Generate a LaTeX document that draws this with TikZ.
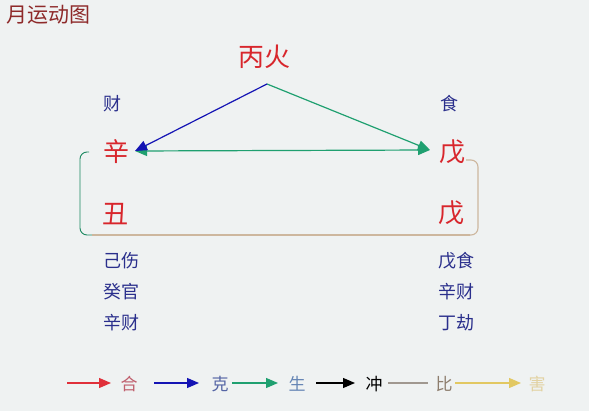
\documentclass[tikz,border=0pt]{standalone}
\usepackage{fontspec}
\setmainfont{Noto Sans CJK SC}
\usetikzlibrary{arrows.meta}
\definecolor{bgc}{HTML}{EFF2F2}
\definecolor{bigred}{HTML}{D8262C}
\definecolor{navy}{HTML}{2A2F8C}
\definecolor{titlered}{HTML}{8E2A2A}
\definecolor{arrblue}{HTML}{1414B4}
\definecolor{arrgreen}{HTML}{1FA070}
\definecolor{tan}{HTML}{CDB79E}
\definecolor{lgred}{HTML}{E0303A}
\definecolor{lgredt}{HTML}{C0606E}
\definecolor{lgbluet}{HTML}{5565A5}
\definecolor{lggreent}{HTML}{6585B5}
\definecolor{lggray}{HTML}{A09890}
\definecolor{lggrayt}{HTML}{8E7E6E}
\definecolor{lgyellow}{HTML}{E2C862}
\definecolor{lgyellowt}{HTML}{E2D2A2}
\tikzset{
  bigch/.style={inner sep=0pt, text=bigred, font=\fontsize{26}{26}\selectfont},
  smallch/.style={inner sep=0pt, text=navy, font=\fontsize{18}{18}\selectfont},
  legtxt/.style={inner sep=0pt, font=\fontsize{17}{17}\selectfont},
  tip/.style={-{Triangle[length=12pt,width=10pt]}},
  legtip/.style={-{Triangle[length=12pt,width=10pt]}, line width=1.3pt},
}
\begin{document}
\begin{tikzpicture}[x=1pt,y=-1pt]
\fill[bgc] (0,0) rectangle (589,411);
\useasboundingbox (0,0) rectangle (589,411);

% title
\node[inner sep=0pt, anchor=west, text=titlered, font=\fontsize{21}{21}\selectfont] (title) at (6,15) {月运动图};

% main characters
\node[bigch] (bing) at (264,57) {丙火};
\node[smallch] (cai) at (112,104) {财};
\node[smallch] (shi) at (449,104) {食};
\node[bigch] (xin) at (116,152) {辛};
\node[bigch] (wu1) at (452,152) {戊};
\node[bigch] (chou) at (115,214) {丑};
\node[bigch] (wu2) at (451,213) {戊};

% lists
\node[smallch] (l1) at (121,261) {己伤};
\node[smallch] (l2) at (121,292) {癸官};
\node[smallch] (l3) at (121,323) {辛财};
\node[smallch] (r1) at (456,261) {戊食};
\node[smallch] (r2) at (456,292) {辛财};
\node[smallch] (r3) at (456,323) {丁劫};

% arrow points
\coordinate (top) at (267,84);
\coordinate (xinE) at (135,151);
\coordinate (wuW) at (430,150);

\draw[arrgreen, line width=1.2pt, {Triangle[length=12pt,width=10pt]}-{Triangle[length=12pt,width=10pt]}] (xinE) -- (wuW);
\draw[arrgreen, line width=1.2pt, tip] (top) -- (wuW);
\draw[arrblue, line width=1.2pt, tip] (top) -- (xinE);

% bracket
\coordinate (bl0) at (89,152);
\coordinate (blc) at (80,235);
\coordinate (brc) at (478,235);
\coordinate (br0) at (466,160);
\draw[arrgreen!85!black, line width=0.9pt, rounded corners=7pt] (bl0) -- (80,152) -- (blc) -- (92,235);
\draw[tan, line width=1.1pt] (92,235) -- (470,235);
\draw[tan, line width=1.1pt, rounded corners=7pt] (470,235) -- (brc) -- (478,160) -- (br0);

% legend
\coordinate (a1s) at (67,383); \coordinate (a1e) at (111,383);
\coordinate (a2s) at (154,383); \coordinate (a2e) at (199,383);
\coordinate (a3s) at (232,383); \coordinate (a3e) at (278,383);
\coordinate (a4s) at (316,383); \coordinate (a4e) at (355,383);
\coordinate (a5s) at (388,383); \coordinate (a5e) at (428,383);
\coordinate (a6s) at (455,383); \coordinate (a6e) at (521,383);
\draw[lgred, legtip] (a1s) -- (a1e);
\node[legtxt, text=lgredt] (he) at (129,384) {合};
\draw[arrblue, legtip] (a2s) -- (a2e);
\node[legtxt, text=lgbluet] (ke) at (220,384) {克};
\draw[arrgreen, legtip] (a3s) -- (a3e);
\node[legtxt, text=lggreent] (sheng) at (297,384) {生};
\draw[black, legtip] (a4s) -- (a4e);
\node[legtxt, text=black] (chong) at (374,384) {冲};
\draw[lggray, line width=1.1pt] (a5s) -- (a5e);
\node[legtxt, text=lggrayt] (bi) at (444,384) {比};
\draw[lgyellow, legtip] (a6s) -- (a6e);
\node[legtxt, text=lgyellowt] (hai) at (537,384) {害};
\end{tikzpicture}
\end{document}
